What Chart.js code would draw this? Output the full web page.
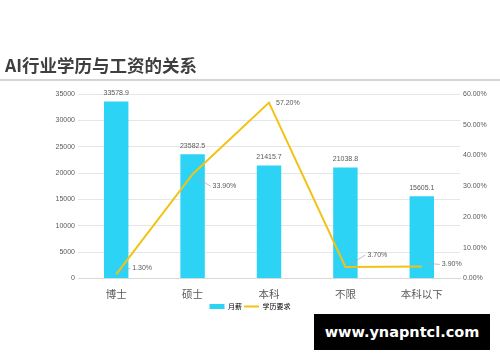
<!DOCTYPE html>
<html><head><meta charset="utf-8">
<script src="https://cdn.jsdelivr.net/npm/chart.js@4"></script>
<style>
html,body{margin:0;padding:0;background:#fff;width:500px;height:362px;overflow:hidden;}
#wrap{position:relative;width:500px;height:362px;}
#title{position:absolute;left:5px;top:52px;font-family:"Noto Sans CJK SC";font-weight:bold;font-size:17.5px;color:#3f3f3f;}
#sep{position:absolute;left:0;top:79px;width:500px;height:2px;background:#d4d4d4;}
#wm{position:absolute;left:314px;top:314px;width:176px;height:36px;background:#000;color:#fff;font-family:"DejaVu Sans";font-weight:bold;font-size:14.5px;line-height:36px;text-align:center;}
canvas{position:absolute;left:0;top:0;}
</style></head>
<body><div id="wrap">
<canvas id="c" width="500" height="362"></canvas>
<div id="title">AI行业学历与工资的关系</div>
<div id="sep"></div>
<div id="wm">www.ynapntcl.com</div>
</div>
<script>
const categories = ["博士","硕士","本科","不限","本科以下"];
const salary = [33578.9, 23582.5, 21415.7, 21038.8, 15605.1];
const eduPercent = [1.3, 33.9, 57.2, 3.7, 3.9];
const leftTicks = [0,5000,10000,15000,20000,25000,30000,35000];
const rightTicks = [0,10,20,30,40,50,60];
const seriesNames = ["月薪","学历要求"];

const lineLabelOffsets = [[16,-6,true],[20,12,true],[7,0,false],[22,-12,true],[20,-2,true]];

const labelPlugin = {
  id:'labels',
  afterDatasetsDraw(chart){
    const ctx = chart.ctx;
    ctx.save();
    ctx.font = '7px "Liberation Sans"';
    ctx.fillStyle = '#595959';
    const bm = chart.getDatasetMeta(0);
    ctx.textAlign='center'; ctx.textBaseline='bottom';
    bm.data.forEach((el,i)=>{ ctx.fillText(salary[i].toFixed(1), el.x, el.y-5); });
    const lm = chart.getDatasetMeta(1);
    ctx.textAlign='left'; ctx.textBaseline='middle';
    ctx.strokeStyle='#a6a6a6'; ctx.lineWidth=0.7;
    lm.data.forEach((el,i)=>{
      const o = lineLabelOffsets[i];
      const tx = el.x + o[0], ty = el.y + o[1];
      if(o[2]){
        ctx.beginPath();
        ctx.moveTo(el.x+5, el.y + (o[1]>0?4:-3));
        ctx.lineTo(tx-2, ty);
        ctx.stroke();
      }
      ctx.fillText(eduPercent[i].toFixed(2)+'%', tx, ty);
    });
    ctx.restore();
  }
};

new Chart(document.getElementById('c'), {
  data:{
    labels: categories,
    datasets:[
      {type:'bar', label:seriesNames[0], data:salary, backgroundColor:'#2dd3f4', yAxisID:'y',
       categoryPercentage:0.32, barPercentage:1, order:2},
      {type:'line', label:seriesNames[1], data:eduPercent, borderColor:'#f2c314', backgroundColor:'#f2c314',
       borderWidth:2, pointRadius:0, tension:0, yAxisID:'y1', order:1}
    ]
  },
  options:{
    responsive:false, animation:false,
    layout:{padding:{top:94,bottom:42,left:0,right:0}},
    plugins:{
      tooltip:{enabled:false},
      legend:{position:'bottom', labels:{font:{size:7,family:'"Noto Sans CJK SC"'}, color:'#595959',
        usePointStyle:true, pointStyleWidth:15, boxWidth:15, boxHeight:5, padding:2,
        generateLabels(chart){
          return [
            {text:seriesNames[0], fillStyle:'#2dd3f4', strokeStyle:'#2dd3f4', lineWidth:0, pointStyle:'rect', datasetIndex:0},
            {text:seriesNames[1], fillStyle:'#f2c314', strokeStyle:'#f2c314', lineWidth:2, pointStyle:'line', datasetIndex:1}
          ];
        }}}
    },
    scales:{
      x:{grid:{display:false}, border:{color:'#d9d9d9'},
         ticks:{font:{size:10.5,family:'"Noto Sans CJK SC"'}, color:'#595959', padding:1}},
      y:{position:'left', min:0, max:35000, afterFit(s){s.width=78;},
         afterBuildTicks(s){s.ticks = leftTicks.map(v=>({value:v}));},
         grid:{color:'#e6e6e6', drawTicks:false}, border:{display:false},
         ticks:{font:{size:7,family:'"Liberation Sans"'}, color:'#595959', padding:3, callback:v=>String(v)}},
      y1:{position:'right', min:0, max:60, afterFit(s){s.width=40;},
         afterBuildTicks(s){s.ticks = rightTicks.map(v=>({value:v}));},
         grid:{display:false, drawTicks:false}, border:{display:false},
         ticks:{font:{size:7,family:'"Liberation Sans"'}, color:'#595959', padding:3,
           callback:v=>v.toFixed(2)+'%'}}
    }
  },
  plugins:[labelPlugin]
});
</script>
</body></html>
